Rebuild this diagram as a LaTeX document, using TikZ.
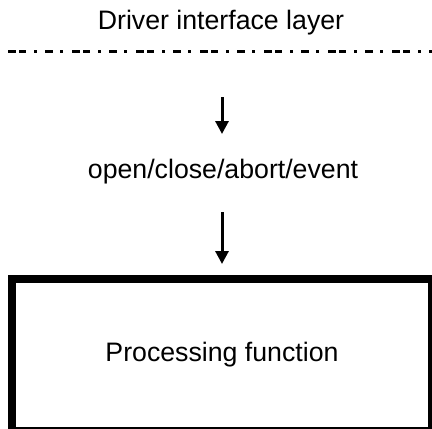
\documentclass[tikz,border=0pt]{standalone}
\usepackage{fontspec}
\setmainfont{Liberation Sans}
\usetikzlibrary{arrows.meta}
\begin{document}
\begin{tikzpicture}[x=1pt,y=-1pt,
  lbl/.style={font=\fontsize{26.7}{30}\selectfont, inner sep=0pt, anchor=base},
  sepline/.style={line width=3pt, dash pattern=on 8pt off 3pt on 7pt off 8pt on 3pt off 8pt on 8pt off 7pt on 3pt off 9pt},
  flow/.style={line width=3pt, -{Triangle[length=13pt,width=13pt]}},
  procbox/.style={draw, line width=8pt, minimum width=420pt, minimum height=152pt, inner sep=0pt, font=\fontsize{26.7}{30}\selectfont}]
\useasboundingbox (0,0) rectangle (432,429);
\node[lbl] (title) at (221,29) {Driver interface layer};
\coordinate (sepL) at (8,51);
\coordinate (sepR) at (432,51);
\draw[sepline] (sepL) -- (sepR);
\coordinate (a1s) at (222,97);
\coordinate (a1e) at (222,134);
\draw[flow] (a1s) -- (a1e);
\node[lbl] (ops) at (223,178) {open/close/abort/event};
\coordinate (a2s) at (222,212);
\coordinate (a2e) at (222,264);
\draw[flow] (a2s) -- (a2e);
\node[procbox] (box) at (222,355) {Processing function};
\end{tikzpicture}
\end{document}
